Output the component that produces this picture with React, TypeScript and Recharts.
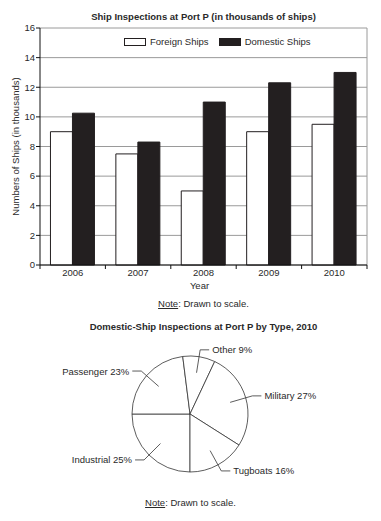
import React from 'react';
import { BarChart, Bar, XAxis, YAxis, CartesianGrid, Legend, PieChart, Pie, Cell } from 'recharts';

const years = ['2006', '2007', '2008', '2009', '2010'];
const foreignShips = [9, 7.5, 5, 9, 9.5];
const domesticShips = [10.25, 8.3, 11, 12.3, 13];
const yTicks = [0, 2, 4, 6, 8, 10, 12, 14, 16];
const seriesOrder = ['foreign', 'domestic'];

const pieTypes = ['Industrial', 'Passenger', 'Other', 'Military', 'Tugboats'];
const pieShares = [25, 23, 9, 27, 16];

const barData = years.map((y, i) => ({ year: y, foreign: foreignShips[i], domestic: domesticShips[i] }));
const pieData = pieTypes.map((n, i) => ({ name: n, value: pieShares[i] }));

const FONT = '"Liberation Sans", Arial, Helvetica, sans-serif';
const TXT = '#2a2a2a';
const DARK = '#231f20';
const GRID = '#9a9a9a';
const FS = 9.5;

const YLabel = (props: any) => {
  const vb = props.viewBox || { x: 10, y: 28, height: 237 };
  const x = vb.x + 5;
  const y = vb.y + vb.height / 2;
  return (
    <text x={x} y={y} transform={`rotate(-90 ${x} ${y})`} textAnchor="middle" dominantBaseline="central"
      fontSize={FS} fill={TXT} fontFamily={FONT}>
      Numbers of Ships (in thousands)
    </text>
  );
};

const XTick = (props: any) => {
  const { x, y, payload, index, visibleTicksCount, width } = props;
  const band = width / visibleTicksCount;
  const left = x - band / 2;
  const right = x + band / 2;
  return (
    <g>
      <line x1={left} y1={y} x2={left} y2={y + 4} stroke="#111" strokeWidth={1} />
      {index === visibleTicksCount - 1 && (
        <line x1={right} y1={y} x2={right} y2={y + 4} stroke="#111" strokeWidth={1} />
      )}
      <text x={x} y={y + 10.5} textAnchor="middle" fontSize={FS} fill={TXT} fontFamily={FONT}>
        {payload.value}
      </text>
    </g>
  );
};

const LegendContent = (props: any) => {
  const items = [...(props.payload || [])].sort(
    (a: any, b: any) => seriesOrder.indexOf(a.dataKey) - seriesOrder.indexOf(b.dataKey)
  );
  return (
    <div style={{ display: 'flex', alignItems: 'center', fontFamily: FONT, fontSize: FS, color: TXT, whiteSpace: 'nowrap' }}>
      {items.map((it: any, i: number) => (
        <div key={i} style={{ display: 'flex', alignItems: 'center', marginLeft: i === 0 ? 0 : 10 }}>
          <span style={{ display: 'inline-block', boxSizing: 'border-box', width: 22, height: 8, border: `1px solid ${DARK}`, background: it.payload && it.payload.fill ? it.payload.fill : it.color }} />
          <span style={{ marginLeft: 4, lineHeight: '10px' }}>{it.value}</span>
        </div>
      ))}
    </div>
  );
};

const RAD = Math.PI / 180;
const PieLabel = (props: any) => {
  const { cx, cy, midAngle, outerRadius, name, value } = props;
  const c = Math.cos(-midAngle * RAD);
  const s = Math.sin(-midAngle * RAD);
  const x0 = cx + outerRadius * 0.72 * c;
  const y0 = cy + outerRadius * 0.72 * s;
  const x1 = cx + outerRadius * 1.12 * c;
  const y1 = cy + outerRadius * 1.12 * s;
  const dir = c >= 0 ? 1 : -1;
  const x2 = x1 + dir * 9;
  return (
    <g>
      <polyline points={`${x0},${y0} ${x1},${y1} ${x2},${y1}`} fill="none" stroke="#333" strokeWidth={0.8} />
      <text x={x2 + dir * 3} y={y1} textAnchor={dir > 0 ? 'start' : 'end'} dominantBaseline="central"
        fontSize={FS} fill={TXT} fontFamily={FONT}>
        {`${name} ${value}%`}
      </text>
    </g>
  );
};

const textStyle = (top: number, left: number, width: number, bold = false): React.CSSProperties => ({
  position: 'absolute', top, left, width, textAlign: 'center', fontFamily: FONT, fontSize: FS,
  lineHeight: '12px', color: TXT, fontWeight: bold ? 700 : 400, whiteSpace: 'nowrap',
});

export default function App() {
  return (
    <div style={{ position: 'absolute', left: 0, top: 0, width: 381, height: 521, background: '#fff', overflow: 'hidden' }}>
      <div style={textStyle(11, 40, 327, true)}>Ship Inspections at Port P (in thousands of ships)</div>
      <div style={{ position: 'absolute', left: 0, top: 0 }}>
        <BarChart width={381} height={300} data={barData} margin={{ top: 28, right: 14, left: 10, bottom: 5 }}
          barGap={0} barCategoryGap="16%">
          <CartesianGrid vertical={true} horizontal={true} stroke={GRID} strokeWidth={1}
            verticalCoordinatesGenerator={(p: any) => [p.offset.left + p.offset.width]} />
          <XAxis dataKey="year" height={30} tickSize={0} tickMargin={0} tickLine={false}
            axisLine={{ stroke: '#111' }} tick={<XTick />} interval={0}
            label={{ value: 'Year', position: 'insideBottom', offset: 6, dx: -4, fill: TXT, fontSize: FS, fontFamily: FONT }} />
          <YAxis width={30} domain={[0, 16]} ticks={yTicks} tickSize={4} tickMargin={1}
            axisLine={{ stroke: '#111' }} tickLine={{ stroke: '#111' }}
            tick={{ fontSize: FS, fill: TXT, fontFamily: FONT }} label={<YLabel />} />
          <Legend verticalAlign="middle" align="center" layout="horizontal"
            wrapperStyle={{ top: 37, left: 124, width: 'auto' }} content={<LegendContent />} />
          <Bar dataKey="foreign" name="Foreign Ships" fill="#ffffff" stroke={DARK} strokeWidth={1} isAnimationActive={false} />
          <Bar dataKey="domestic" name="Domestic Ships" fill={DARK} stroke={DARK} strokeWidth={1} isAnimationActive={false} />
        </BarChart>
      </div>
      <div style={textStyle(298, 40, 327)}><span style={{ textDecoration: 'underline' }}>Note</span>: Drawn to scale.</div>
      <div style={textStyle(321, 40, 327, true)}>Domestic-Ship Inspections at Port P by Type, 2010</div>
      <div style={{ position: 'absolute', left: 0, top: 300 }}>
        <PieChart width={381} height={221} margin={{ top: 0, right: 0, bottom: 0, left: 0 }}>
          <Pie data={pieData} dataKey="value" nameKey="name" cx={190} cy={114} outerRadius={58}
            startAngle={-90} endAngle={-450} fill="#fff" stroke="#333" strokeWidth={0.8}
            label={PieLabel} labelLine={false} isAnimationActive={false}>
            {pieData.map((d, i) => <Cell key={i} fill="#fff" stroke="#333" />)}
          </Pie>
        </PieChart>
      </div>
      <div style={textStyle(497, 0, 381)}><span style={{ textDecoration: 'underline' }}>Note</span>: Drawn to scale.</div>
    </div>
  );
}
